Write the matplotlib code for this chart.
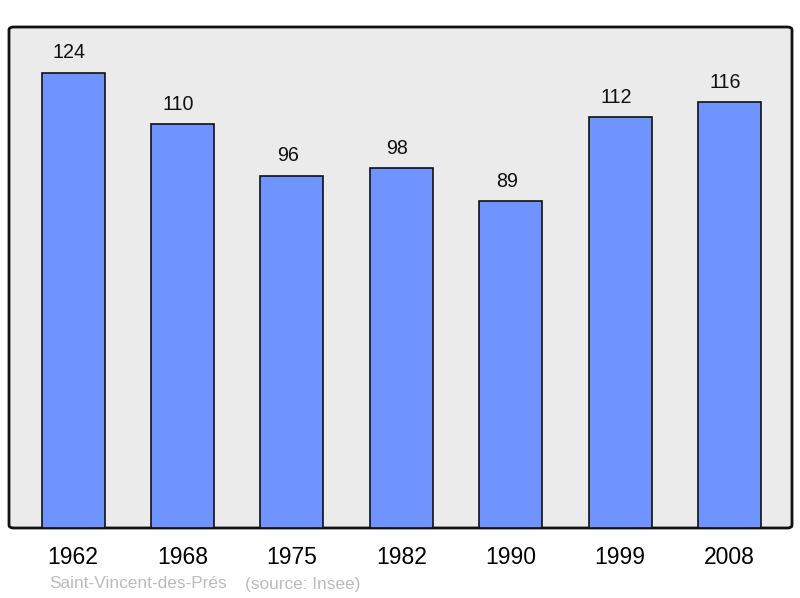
import matplotlib.pyplot as plt
from matplotlib.patches import FancyBboxPatch

# data
years = ['1962', '1968', '1975', '1982', '1990', '1999', '2008']
population = [124, 110, 96, 98, 89, 112, 116]
commune = 'Saint-Vincent-des-Prés'
source = '(source: Insee)'

plt.rcParams['font.family'] = ['Liberation Sans', 'DejaVu Sans']

fig = plt.figure(figsize=(8, 5.98), dpi=100)
ax = fig.add_axes([9 / 800, 70 / 598, 783 / 800, 501 / 598])
ax.set_facecolor('none')

# rounded frame
frame = FancyBboxPatch((0, 0), 1, 1, boxstyle='round,pad=0,rounding_size=0.006',
                       transform=ax.transAxes, facecolor='#ebebeb',
                       edgecolor='#111111', linewidth=2, zorder=0, clip_on=False)
ax.add_patch(frame)
for s in ax.spines.values():
    s.set_visible(False)

x = range(len(years))
bars = ax.bar(x, population, width=0.576, color='#7094ff',
              edgecolor='#111111', linewidth=1.2, zorder=2)

# value labels sit a little left of the bar centre in the original
for xi, v in zip(x, population):
    ax.annotate(str(v), (xi, v), xytext=(-3, 7.5), textcoords='offset points',
                ha='center', va='bottom', fontsize=14.2, color='#111111')

ax.set_xlim(-0.585, 6.57)
ax.set_ylim(0, 136.5)
ax.set_xticks(list(x))
ax.set_xticklabels(years, fontsize=16.5)
ax.tick_params(axis='x', length=0, pad=13)
ax.set_yticks([])

fig.text(49 / 800, 1 - 584 / 598, commune, fontsize=12.4, color='#bbbbbb',
         ha='left', va='center')
fig.text(245 / 800, 1 - 584 / 598, source, fontsize=12.4, color='#bbbbbb',
         ha='left', va='center')

plt.savefig('out.png', dpi=100)
